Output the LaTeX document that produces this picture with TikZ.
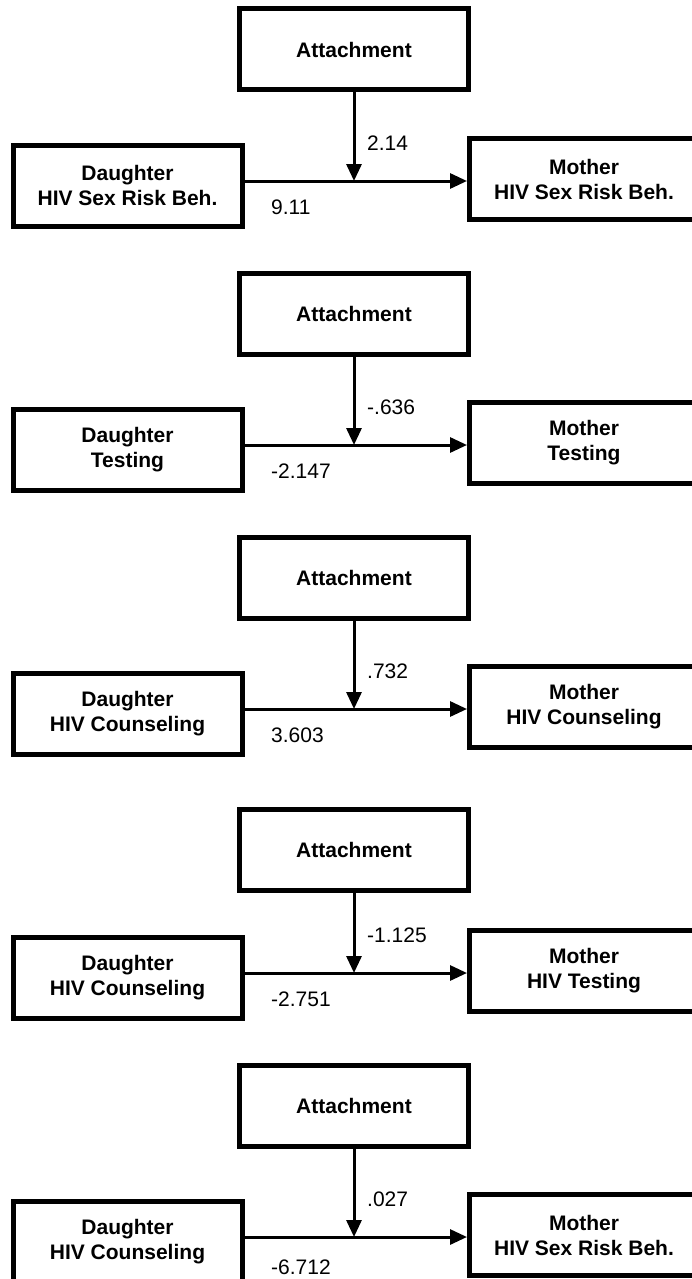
\documentclass[tikz,border=0pt]{standalone}
\usepackage{fontspec}
\setmainfont{Liberation Sans}
\usetikzlibrary{arrows.meta}

\begin{document}
\begin{tikzpicture}[x=1pt, y=-1pt, >={Triangle[length=17pt,width=15pt]},
    box/.style={draw, line width=5pt, minimum width=229pt, minimum height=81pt,
                align=center, font=\fontsize{21}{25}\selectfont\bfseries},
    coef/.style={inner sep=0pt, anchor=west, font=\fontsize{21}{25}\selectfont},
    path/.style={->, line width=3pt}]
  \useasboundingbox (0,0) rectangle (692,1279);

  % panel 1
  \node[box] (A1) at (354,49.5) {Attachment};
  \node[box] (D1) at (127.5,185.5) {Daughter\\HIV Sex Risk Beh.};
  \node[box] (M1) at (584,179) {Mother\\HIV Sex Risk Beh.};
  \coordinate (J1) at (354,181);
  \draw[path] (A1) -- (J1);
  \draw[path] (D1.east |- J1) -- (M1.west |- J1);
  \node[coef] (w1) at (367,143) {2.14};
  \node[coef] (b1) at (271,207) {9.11};

  % panel 2
  \node[box] (A2) at (354,313.5) {Attachment};
  \node[box] (D2) at (127.5,449.5) {Daughter\\Testing};
  \node[box] (M2) at (584,443) {Mother\\Testing};
  \coordinate (J2) at (354,445);
  \draw[path] (A2) -- (J2);
  \draw[path] (D2.east |- J2) -- (M2.west |- J2);
  \node[coef] (w2) at (367,407) {-.636};
  \node[coef] (b2) at (271,471) {-2.147};

  % panel 3
  \node[box] (A3) at (354,577.5) {Attachment};
  \node[box] (D3) at (127.5,713.5) {Daughter\\HIV Counseling};
  \node[box] (M3) at (584,707) {Mother\\HIV Counseling};
  \coordinate (J3) at (354,709);
  \draw[path] (A3) -- (J3);
  \draw[path] (D3.east |- J3) -- (M3.west |- J3);
  \node[coef] (w3) at (367,671) {.732};
  \node[coef] (b3) at (271,735) {3.603};

  % panel 4
  \node[box] (A4) at (354,849.5) {Attachment};
  \node[box] (D4) at (127.5,977.5) {Daughter\\HIV Counseling};
  \node[box] (M4) at (584,971) {Mother\\HIV Testing};
  \coordinate (J4) at (354,973);
  \draw[path] (A4) -- (J4);
  \draw[path] (D4.east |- J4) -- (M4.west |- J4);
  \node[coef] (w4) at (367,935) {-1.125};
  \node[coef] (b4) at (271,999) {-2.751};

  % panel 5
  \node[box] (A5) at (354,1105.5) {Attachment};
  \node[box] (D5) at (127.5,1241.5) {Daughter\\HIV Counseling};
  \node[box] (M5) at (584,1235) {Mother\\HIV Sex Risk Beh.};
  \coordinate (J5) at (354,1237);
  \draw[path] (A5) -- (J5);
  \draw[path] (D5.east |- J5) -- (M5.west |- J5);
  \node[coef] (w5) at (367,1199) {.027};
  \node[coef] (b5) at (271,1267) {-6.712};
\end{tikzpicture}
\end{document}
